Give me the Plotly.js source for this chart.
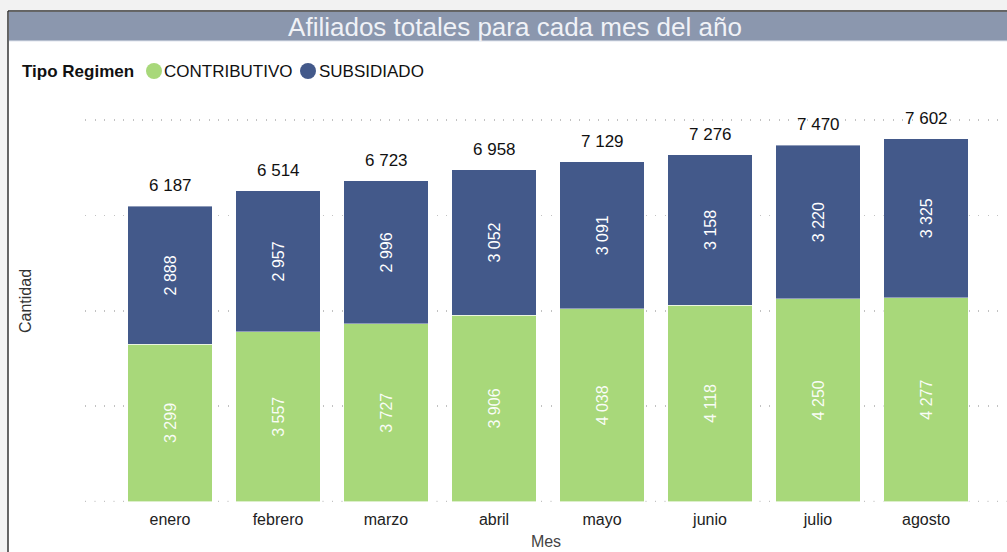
<!DOCTYPE html>
<html>
<head>
<meta charset="utf-8">
<script src="https://cdn.plot.ly/plotly-3.0.1.min.js"></script>
<style>
  html, body { margin: 0; padding: 0; background: #f2f2f2; }
  #chart { width: 1007px; height: 552px; }
</style>
</head>
<body>
<div id="chart"></div>
<script>
const months = ["enero", "febrero", "marzo", "abril", "mayo", "junio", "julio", "agosto"];
const contributivo = [3299, 3557, 3727, 3906, 4038, 4118, 4250, 4277];
const subsidiado = [2888, 2957, 2996, 3052, 3091, 3158, 3220, 3325];
const seriesNames = ["CONTRIBUTIVO", "SUBSIDIADO"];
const legendTitle = "Tipo Regimen";
const totals = months.map((m, i) => contributivo[i] + subsidiado[i]);

const GREEN = "#a8d87a";
const BLUE = "#43598a";
const FONT = "Liberation Sans, Arial, sans-serif";
const GRID_DASH = "1px,8.5px";
const GRID_COLOR = "#c2c2c2";

const W = 1007, H = 552;
const mL = 85, mR = 0, mT = 100, mB = 50;
const pw = W - mL - mR, ph = H - mT - mB;
const px = x => (x - mL) / pw;          // pixel -> paper x
const py = y => (H - mB - y) / ph;      // pixel -> paper y
const fmt = n => String(n).replace(/\B(?=(\d{3})+(?!\d))/g, " ");

const traces = [
  {
    type: "bar", name: seriesNames[0], x: months, y: contributivo,
    marker: { color: GREEN, line: { color: "rgba(255,255,255,0.6)", width: 1 } },
    texttemplate: "%{y:,}", textposition: "inside", insidetextanchor: "middle",
    textangle: -90, textfont: { color: "rgba(255,255,255,0.95)", size: 16 },
    showlegend: false, hoverinfo: "skip"
  },
  {
    type: "bar", name: seriesNames[1], x: months, y: subsidiado,
    marker: { color: BLUE, line: { color: "rgba(255,255,255,0.4)", width: 1 } },
    texttemplate: "%{y:,}", textposition: "inside", insidetextanchor: "middle",
    textangle: -90, textfont: { color: "#ffffff", size: 16 },
    showlegend: false, hoverinfo: "skip"
  }
];

// total labels above each stacked bar
const totalAnns = months.map((m, i) => ({
  x: m, y: totals[i], xref: "x", yref: "y",
  text: fmt(totals[i]), showarrow: false,
  yanchor: "bottom", yshift: 9,
  font: { size: 17, color: "#111" }
}));

// legend (title + entries)
const legendAnns = [
  { xref: "paper", yref: "paper", x: px(20), y: py(71), xanchor: "left", yanchor: "middle",
    text: "<b>" + legendTitle + "</b>", showarrow: false, font: { size: 17, color: "#111" } },
  { xref: "paper", yref: "paper", x: px(162), y: py(71), xanchor: "left", yanchor: "middle",
    text: seriesNames[0], showarrow: false, font: { size: 17, color: "#111" } },
  { xref: "paper", yref: "paper", x: px(317), y: py(71), xanchor: "left", yanchor: "middle",
    text: seriesNames[1], showarrow: false, font: { size: 17, color: "#111" } }
];

const layout = {
  width: W, height: H,
  margin: { l: mL, r: mR, t: mT, b: mB, pad: 0 },
  paper_bgcolor: "rgba(0,0,0,0)",
  plot_bgcolor: "rgba(0,0,0,0)",
  font: { family: FONT, color: "#222", size: 16 },
  separators: ", ",
  barmode: "stack",
  bargap: 0.222,
  showlegend: false,
  title: {
    text: "Afiliados totales para cada mes del año",
    font: { size: 26, color: "#f0f2f7" },
    x: px(515), xref: "paper", xanchor: "center",
    y: 1 - 27 / H, yref: "container", yanchor: "middle"
  },
  xaxis: {
    type: "category",
    range: [-(170 - mL) / 108, -(170 - mL) / 108 + pw / 108],
    showgrid: false, zeroline: false, showline: false, ticks: "",
    tickfont: { size: 16, color: "#222" },
    ticklabelstandoff: 6,
    title: { text: "Mes", font: { size: 16, color: "#444" }, standoff: 8 }
  },
  yaxis: {
    range: [-8, (H - mB - mT) / 95.5 * 2000],
    dtick: 2000, tick0: 0,
    showticklabels: false, ticks: "",
    showgrid: true, gridcolor: GRID_COLOR, gridwidth: 1.5, griddash: GRID_DASH,
    zeroline: false, showline: false,
    title: { text: "Cantidad", font: { size: 16, color: "#333" }, standoff: 48 }
  },
  annotations: totalAnns.concat(legendAnns),
  shapes: [
    // white card with dark border (left & top)
    { type: "rect", xref: "paper", yref: "paper", layer: "below",
      x0: px(8), x1: px(1010), y0: py(560), y1: py(11),
      fillcolor: "#ffffff", line: { width: 0 } },
    { type: "line", xref: "paper", yref: "paper", layer: "below",
      x0: px(8), x1: px(8), y0: py(560), y1: py(11),
      line: { color: "#333333", width: 1.5 } },
    { type: "line", xref: "paper", yref: "paper", layer: "below",
      x0: px(8), x1: px(1010), y0: py(11), y1: py(11),
      line: { color: "#333333", width: 1.5 } },
    // title bar
    { type: "rect", xref: "paper", yref: "paper", layer: "below",
      x0: px(9), x1: px(1010), y0: py(41), y1: py(12),
      fillcolor: "#8b97ae", line: { width: 0 } },
    { type: "line", xref: "paper", yref: "paper", layer: "below",
      x0: px(9), x1: px(1010), y0: py(41), y1: py(41),
      line: { color: "#dfe4ee", width: 1 } },
    // baseline gridline at zero
    { type: "line", xref: "paper", yref: "y", layer: "below",
      x0: 0, x1: 1, y0: 0, y1: 0,
      line: { color: GRID_COLOR, width: 1.5, dash: GRID_DASH } },
    // legend markers
    { type: "circle", xref: "paper", yref: "paper", layer: "above",
      x0: px(146), x1: px(162), y0: py(79), y1: py(63),
      fillcolor: GREEN, line: { width: 0 } },
    { type: "circle", xref: "paper", yref: "paper", layer: "above",
      x0: px(300), x1: px(316), y0: py(79), y1: py(63),
      fillcolor: BLUE, line: { width: 0 } }
  ]
};

Plotly.newPlot("chart", traces, layout, { displayModeBar: false, staticPlot: true });
</script>
</body>
</html>
